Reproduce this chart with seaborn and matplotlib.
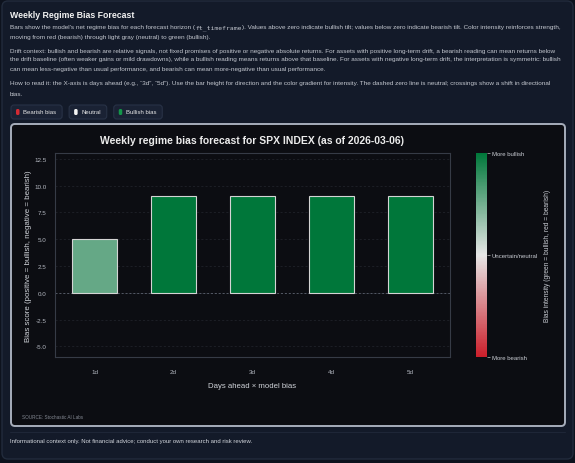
import matplotlib
matplotlib.use('Agg')
import numpy as np
import matplotlib.pyplot as plt
import seaborn as sns
from matplotlib.patches import FancyBboxPatch
from matplotlib.colors import LinearSegmentedColormap, Normalize
from matplotlib.cm import ScalarMappable

# data
days = ['1d', '2d', '3d', '4d', '5d']
scores = [5.0, 9.0, 9.0, 9.0, 9.0]
chip_labels = ['Bearish bias', 'Neutral', 'Bullish bias']
chip_colors = ['#d42a33', '#f4f4f4', '#14964a']
cbar_labels = ['More bearish', 'Uncertain/neutral', 'More bullish']

sns.set_style('dark')
plt.rcParams['font.family'] = ['Liberation Sans', 'DejaVu Sans']

W, H = 575, 464
fig = plt.figure(figsize=(W / 100, H / 100), dpi=100, facecolor='#0d121d')
renderer = fig.canvas.get_renderer()

# background layer in pixel coordinates
bg = fig.add_axes([0, 0, 1, 1])
bg.set_xlim(0, W)
bg.set_ylim(H, 0)
bg.axis('off')

bg.add_patch(FancyBboxPatch((2, 2), 571, 458, boxstyle='round,pad=0,rounding_size=6',
                            fc='#131a29', ec='#222b3c', lw=1))

txt = '#c3c7cf'
bg.text(10, 15, 'Weekly Regime Bias Forecast', fontsize=6.3, fontweight='bold',
        color='#f2f2f2', va='center')


def text_runs(x, y, runs, **kw):
    for s, fam in runs:
        t = bg.text(x, y, s, family=fam, va='center', **kw)
        x += t.get_window_extent(renderer).width


para_kw = dict(fontsize=4.6, color=txt)
text_runs(10, 28, [("Bars show the model's net regime bias for each forecast horizon (", 'Liberation Sans'),
                   ('ft_timeframe', 'DejaVu Sans Mono'),
                   ('). Values above zero indicate bullish tilt; values below zero indicate bearish tilt. '
                    'Color intensity reinforces strength,', 'Liberation Sans')], **para_kw)
lines = [
    (37, 'moving from red (bearish) through light gray (neutral) to green (bullish).'),
    (51, 'Drift context: bullish and bearish are relative signals, not fixed promises of positive or negative '
         'absolute returns. For assets with positive long-term drift, a bearish reading can mean returns below'),
    (60, 'the drift baseline (often weaker gains or mild drawdowns), while a bullish reading means returns above '
         'that baseline. For assets with negative long-term drift, the interpretation is symmetric: bullish'),
    (70, 'can mean less-negative than usual performance, and bearish can mean more-negative than usual performance.'),
    (84, 'How to read it: the X-axis is days ahead (e.g., \u201c3d\u201d, \u201c5d\u201d). Use the bar height for '
         'direction and the color gradient for intensity. The dashed zero line is neutral; crossings show a shift in directional'),
    (94, 'bias.'),
]
for y, s in lines:
    bg.text(10, y, s, va='center', **para_kw)

# legend chips
x = 11
for lab, col in zip(chip_labels, chip_colors):
    t = bg.text(x + 12, 113, lab, fontsize=4.3, color='#e6e6e6', va='center')
    w = t.get_window_extent(renderer).width + 18
    bg.add_patch(FancyBboxPatch((x, 106), w, 14, boxstyle='round,pad=0,rounding_size=3',
                                fc='#1a2234', ec='#283246', lw=0.8))
    bg.add_patch(FancyBboxPatch((x + 5, 110), 3.5, 6, boxstyle='round,pad=0,rounding_size=1.5',
                                fc=col, ec='none'))
    x += w + 7

# chart card
bg.add_patch(FancyBboxPatch((11, 125), 554, 302, boxstyle='round,pad=0,rounding_size=4',
                            fc='#0c0d12', ec='#a7aebb', lw=1.4))
bg.text(22, 418, 'SOURCE: Stochastic AI Labs', fontsize=3.3, color='#858a94', va='center')
bg.plot([10, 565], [433, 433], color='#1e2637', lw=0.8)
bg.text(10, 442, 'Informational context only. Not financial advice; conduct your own research and risk review.',
        fontsize=4.3, color='#d3d7de', va='center')

# colours from diverging map
cmap = LinearSegmentedColormap.from_list('bias', ['#cc1f2b', '#e6e6e6', '#00773a'])
vmax = max(abs(v) for v in scores)
norm = Normalize(-vmax, vmax)
bar_colors = [cmap(norm(v)) for v in scores]

ax = fig.add_axes([55 / W, 1 - 358 / H, 395 / W, 204 / H])
ax.set_facecolor('#0c0d12')
sns.barplot(x=days, y=scores, hue=days, palette=bar_colors, legend=False, width=0.56,
            saturation=1, edgecolor='#d4d4d4', linewidth=0.8, ax=ax, zorder=3)
ax.set_xlim(-0.5, 4.5)
ax.set_ylim(-6, 13.05)
ax.set_yticks(np.arange(-5, 12.6, 2.5))
ax.set_yticklabels([f'{v:.1f}' for v in np.arange(-5, 12.6, 2.5)])
ax.grid(False)
for v in np.arange(-5, 12.6, 2.5):
    ax.axhline(v, color='#23262e', lw=0.5, ls=(0, (3, 3)), zorder=1)
ax.axhline(0, color='#555a66', lw=0.7, ls=(0, (2, 2)), zorder=2)
for sp in ax.spines.values():
    sp.set_visible(True)
    sp.set_color('#363b46')
    sp.set_linewidth(0.8)
ax.tick_params(axis='x', length=0, pad=9, labelsize=4.5, labelcolor='#b5b9c2')
ax.tick_params(axis='y', length=0, pad=6, labelsize=4.5, labelcolor='#b5b9c2')
ax.set_title('Weekly regime bias forecast for SPX INDEX (as of 2026-03-06)', fontsize=7.5,
             fontweight='bold', color='#ececec', pad=7)
ax.set_xlabel('Days ahead \u00d7 model bias', fontsize=5.6, color='#d0d3d9')
ax.xaxis.set_label_coords(0.5, -0.125)
ax.set_ylabel('Bias score (positive = bullish, negative = bearish)', fontsize=5.7, color='#cfd2d8')
ax.yaxis.set_label_coords(-0.058, 0.5)

# colour bar
cax = fig.add_axes([476 / W, 1 - 358 / H, 11 / W, 204 / H])
cb = fig.colorbar(ScalarMappable(norm=norm, cmap=cmap), cax=cax)
cb.outline.set_visible(False)
cb.set_ticks([-vmax, 0, vmax])
cb.set_ticklabels(cbar_labels)
cax.tick_params(length=2, width=0.5, color='#c0c0c0', labelsize=4.3, labelcolor='#c9ccd3', pad=1.5)
cb.set_label('Bias intensity (green = bullish, red = bearish)', fontsize=4.8, color='#c9ccd3')
cax.yaxis.set_label_coords(6.2, 0.5)

fig.savefig('out.png', dpi=100, facecolor=fig.get_facecolor())
